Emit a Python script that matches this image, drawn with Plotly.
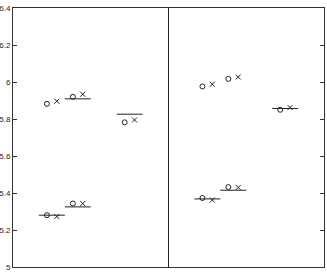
import plotly.graph_objects as go

# group centre positions (left panel 0-6, right panel 6-12)
groups_left = [1.5, 2.5, 4.5]
groups_right = [7.5, 8.5, 10.5]
panel_divider = 6

# left panel values
left_upper_circle = [5.882, 5.920, 5.782]
left_upper_cross = [5.896, 5.934, 5.795]
left_lower_circle = [5.280, 5.343]
left_lower_cross = [5.273, 5.343]
left_line_groups = [2.5, 4.5, 1.5, 2.5]
left_line_values = [5.909, 5.826, 5.280, 5.325]

# right panel values
right_upper_circle = [5.976, 6.017, 5.850]
right_upper_cross = [5.988, 6.027, 5.862]
right_lower_circle = [5.373, 5.432]
right_lower_cross = [5.362, 5.430]
right_line_groups = [10.5, 7.5, 8.5]
right_line_values = [5.857, 5.368, 5.415]

y_ticks = [5.0, 5.2, 5.4, 5.6, 5.8, 6.0, 6.2, 6.4]
y_tick_labels = ["5", "5.2", "5.4", "5.6", "5.8", "6", "6.2", "6.4"]

OFF = 0.19
HALF = 0.5

fig = go.Figure()

def add_points(gx, vals, symbol):
    fig.add_trace(go.Scatter(
        x=[g + (-OFF if symbol == "circle-open" else OFF) for g in gx[:len(vals)]],
        y=vals, mode="markers",
        marker=dict(symbol=symbol, size=5, color="#222",
                    line=dict(color="#222", width=1)),
        showlegend=False, hoverinfo="skip", cliponaxis=False))

def add_lines(gx, vals):
    xs, ys = [], []
    for g, v in zip(gx, vals):
        xs += [g - HALF, g + HALF, None]
        ys += [v, v, None]
    fig.add_trace(go.Scatter(x=xs, y=ys, mode="lines",
                             line=dict(color="#222", width=1),
                             showlegend=False, hoverinfo="skip"))

add_lines(left_line_groups, left_line_values)
add_lines(right_line_groups, right_line_values)
add_points(groups_left, left_upper_circle, "circle-open")
add_points(groups_left, left_upper_cross, "x-thin-open")
add_points(groups_left, left_lower_circle, "circle-open")
add_points(groups_left, left_lower_cross, "x-thin-open")
add_points(groups_right, right_upper_circle, "circle-open")
add_points(groups_right, right_upper_cross, "x-thin-open")
add_points(groups_right, right_lower_circle, "circle-open")
add_points(groups_right, right_lower_cross, "x-thin-open")

fig.add_shape(type="line", xref="x", yref="paper", x0=panel_divider, x1=panel_divider,
              y0=0, y1=1, line=dict(color="#222", width=1))

fig.update_layout(
    width=327, height=273,
    margin=dict(l=13, r=3, t=8, b=6, autoexpand=False),
    paper_bgcolor="white", plot_bgcolor="white",
    font=dict(family="Liberation Sans, Arial, sans-serif", size=8, color="#222"),
    xaxis=dict(range=[0, 12], showticklabels=False, ticks="", showgrid=False,
               zeroline=False, showline=True, linecolor="#333", linewidth=1,
               mirror=True, automargin=False),
    yaxis=dict(range=[5.0, 6.4], tickvals=y_ticks, ticktext=y_tick_labels,
               ticks="inside", ticklen=4, tickcolor="#333", showgrid=False,
               zeroline=False, showline=True, linecolor="#333", linewidth=1,
               mirror="ticks", ticklabelstandoff=0, automargin=False),
)

fig.write_html("out.html", config={"displayModeBar": False},
               post_script="document.body.style.margin='0';document.body.style.overflow='hidden';")
